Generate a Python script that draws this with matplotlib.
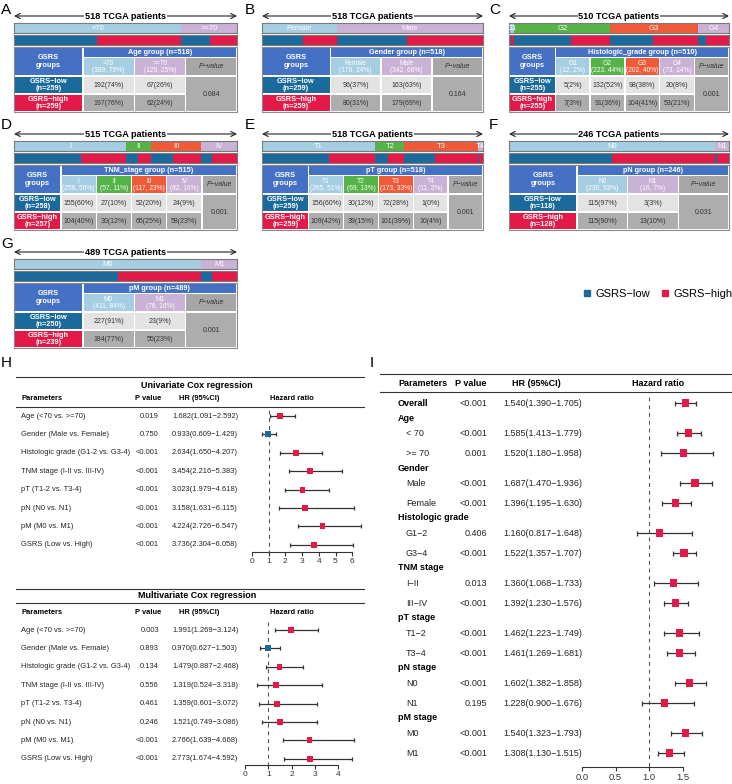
import numpy as np
import matplotlib
matplotlib.use('Agg')
import matplotlib.pyplot as plt
from matplotlib.patches import Rectangle
from matplotlib.lines import Line2D

plt.rcParams['font.family'] = ['Liberation Sans', 'DejaVu Sans']

W, H = 732, 784

LOW = '#1a6a9c'
HIGH = '#e31a47'
HEAD = '#4571c4'
LIGHT_GRAY = '#e3e3e3'
DARK_GRAY = '#adadad'
C_LB = '#a6cee3'
C_LILAC = '#cab2d6'
C_GREEN = '#55b347'
C_ORANGE = '#ef5a38'

# ---- composition tables A-G ----
age_cats = ['<70', '>=70']
age_low = [192, 67]
age_high = [197, 62]

gender_cats = ['Female', 'Male']
gender_low = [96, 163]
gender_high = [80, 179]

grade_cats = ['G1', 'G2', 'G3', 'G4']
grade_low = [5, 132, 98, 20]
grade_high = [7, 91, 104, 53]

tnm_cats = ['I', 'II', 'III', 'IV']
tnm_low = [155, 27, 52, 24]
tnm_high = [104, 30, 65, 58]

pt_cats = ['T1', 'T2', 'T3', 'T4']
pt_low = [156, 30, 72, 1]
pt_high = [109, 39, 101, 10]

pn_cats = ['N0', 'N1']
pn_low = [115, 3]
pn_high = [115, 13]

pm_cats = ['M0', 'M1']
pm_low = [227, 23]
pm_high = [184, 55]

panel_pvals = ['0.684', '0.164', '0.001', '0.001', '0.001', '0.031', '0.001']

# ---- Cox regression (H) ----
h_labels = ['Age (<70 vs. >=70)', 'Gender (Male vs. Female)',
            'Histologic grade (G1-2 vs. G3-4)', 'TNM stage (I-II vs. III-IV)',
            'pT (T1-2 vs. T3-4)', 'pN (N0 vs. N1)', 'pM (M0 vs. M1)',
            'GSRS (Low vs. High)']
uni_p = ['0.019', '0.750', '<0.001', '<0.001', '<0.001', '<0.001', '<0.001', '<0.001']
uni_hr = [1.682, 0.933, 2.634, 3.454, 3.023, 3.158, 4.224, 3.736]
uni_lo = [1.091, 0.609, 1.650, 2.216, 1.979, 1.631, 2.726, 2.304]
uni_hi = [2.592, 1.429, 4.207, 5.383, 4.618, 6.115, 6.547, 6.058]
multi_p = ['0.003', '0.893', '0.134', '0.556', '0.461', '0.246', '<0.001', '<0.001']
multi_hr = [1.991, 0.970, 1.479, 1.319, 1.359, 1.521, 2.766, 2.773]
multi_lo = [1.269, 0.627, 0.887, 0.524, 0.601, 0.749, 1.639, 1.674]
multi_hi = [3.124, 1.503, 2.468, 3.318, 3.072, 3.086, 4.668, 4.592]

# ---- subgroup forest (I) ----
i_groups = ['Overall', 'Age', 'Gender', 'Histologic grade', 'TNM stage',
            'pT stage', 'pN stage', 'pM stage']
i_items = [[], ['< 70', '>= 70'], ['Male', 'Female'], ['G1\u22122', 'G3\u22124'],
           ['I\u2212II', 'III\u2212IV'], ['T1\u22122', 'T3\u22124'], ['N0', 'N1'], ['M0', 'M1']]
i_p = ['<0.001', '<0.001', '0.001', '<0.001', '<0.001', '0.406', '<0.001', '0.013',
       '<0.001', '<0.001', '<0.001', '<0.001', '0.195', '<0.001', '<0.001']
i_hr = [1.540, 1.585, 1.520, 1.687, 1.396, 1.160, 1.522, 1.360, 1.392, 1.462, 1.461,
        1.602, 1.228, 1.540, 1.308]
i_lo = [1.390, 1.413, 1.180, 1.470, 1.195, 0.817, 1.357, 1.068, 1.230, 1.223, 1.269,
        1.382, 0.900, 1.323, 1.130]
i_hi = [1.705, 1.779, 1.958, 1.936, 1.630, 1.648, 1.707, 1.733, 1.576, 1.749, 1.681,
        1.858, 1.676, 1.793, 1.515]

fig = plt.figure(figsize=(W / 100, H / 100), dpi=100)
ov = fig.add_axes([0, 0, 1, 1])
ov.set_xlim(0, W)
ov.set_ylim(H, 0)
ov.axis('off')


def px_box(x0, y0, x1, y1):
    return [x0 / W, 1 - y1 / H, (x1 - x0) / W, (y1 - y0) / H]


def pct(v, n):
    return int(round(100 * v / n))


def strip(x0, x1, y0, y1, values, colors, labels=None):
    ax = fig.add_axes(px_box(x0, y0, x1, y1))
    left = np.concatenate([[0], np.cumsum(values)[:-1]])
    ax.barh(0, values, left=left, color=colors, height=1, edgecolor='none')
    ax.set_xlim(0, sum(values))
    ax.set_ylim(-0.5, 0.5)
    ax.set_xticks([])
    ax.set_yticks([])
    for s in ax.spines.values():
        s.set_color('#7a7a7a')
        s.set_linewidth(0.8)
    if labels:
        for l, v, lab in zip(left, values, labels):
            ax.text(l + v / 2, 0, lab, color='white', ha='center', va='center', fontsize=5.5)


def cell(x0, y0, x1, y1, fc, txt='', tc='white', **kw):
    ov.add_patch(Rectangle((x0, y0), x1 - x0, y1 - y0, facecolor=fc, edgecolor='none', zorder=2))
    if txt:
        ov.text((x0 + x1) / 2, (y0 + y1) / 2, txt, color=tc, ha='center', va='center',
                zorder=3, linespacing=1.1, **kw)


def panel(letter, lx, ly, x0, x1, ya, group, cats, low, high, pval, colors):
    low = np.array(low)
    high = np.array(high)
    tot = low + high
    n = tot.sum()
    n_low, n_high = low.sum(), high.sum()
    ov.text(lx, ly, letter, fontsize=11, ha='left', va='center')
    ov.annotate('', xy=(x0, ya), xytext=(x1, ya),
                arrowprops=dict(arrowstyle='<->', lw=0.8, color='#222',
                                shrinkA=0, shrinkB=0, mutation_scale=9))
    ov.text((x0 + x1) / 2, ya, f'{n} TCGA patients', ha='center', va='center',
            fontsize=6.6, fontweight='bold',
            bbox=dict(facecolor='white', edgecolor='none', pad=0.6))
    strip(x0, x1, ya + 7, ya + 17, tot, colors, cats)
    inter = np.ravel(np.column_stack([low, high]))
    strip(x0, x1, ya + 19, ya + 29, inter, [LOW, HIGH] * len(cats))

    t = ya + 31
    nc = len(cats)
    unit = (x1 - x0) / (1.34 + nc + 1)
    gw = 1.34 * unit
    g = 0.7
    xs = [x0 + gw + i * unit for i in range(nc + 2)]
    xs[-1] = x1
    ov.add_patch(Rectangle((x0, t), x1 - x0, 65, facecolor='white',
                           edgecolor='#8a8a8a', lw=0.8, zorder=1))
    cell(x0 + g, t + g, x0 + gw - g, t + 29 - g, HEAD, 'GSRS\ngroups',
         fontsize=5.3, fontweight='bold')
    cell(x0 + gw + g, t + g, x1 - g, t + 10.5 - g, HEAD, group,
         fontsize=5.2, fontweight='bold')
    for i, c in enumerate(cats):
        cell(xs[i] + g, t + 10.5 + g, xs[i + 1] - g, t + 29 - g, colors[i],
             f'{c}\n({tot[i]}, {pct(tot[i], n)}%)', fontsize=4.8)
        cell(xs[i] + g, t + 29 + g, xs[i + 1] - g, t + 47 - g, LIGHT_GRAY,
             f'{low[i]}({pct(low[i], n_low)}%)', tc='#333', fontsize=5)
        cell(xs[i] + g, t + 47 + g, xs[i + 1] - g, t + 65 - g, DARK_GRAY,
             f'{high[i]}({pct(high[i], n_high)}%)', tc='#333', fontsize=5)
    cell(xs[nc] + g, t + 10.5 + g, x1 - g, t + 29 - g, '#a6a6a6', 'P\u2212value',
         tc='#333', fontsize=5, fontstyle='italic')
    cell(x0 + g, t + 29 + g, x0 + gw - g, t + 47 - g, LOW, f'GSRS\u2212low\n(n={n_low})',
         fontsize=5.3, fontweight='bold')
    cell(x0 + g, t + 47 + g, x0 + gw - g, t + 65 - g, HIGH, f'GSRS\u2212high\n(n={n_high})',
         fontsize=5.3, fontweight='bold')
    cell(xs[nc] + g, t + 29 + g, x1 - g, t + 65 - g, DARK_GRAY, pval, tc='#333', fontsize=5)


c2 = [C_LB, C_LILAC]
c4 = [C_LB, C_GREEN, C_ORANGE, C_LILAC]
panel('A', 1, 10, 14, 237, 16, 'Age group (n=518)', age_cats, age_low, age_high, panel_pvals[0], c2)
panel('B', 245, 10, 262, 483, 16, 'Gender group (n=518)', gender_cats, gender_low, gender_high, panel_pvals[1], c2)
panel('C', 489, 10, 509, 729, 16, 'Histologic_grade group (n=510)', grade_cats, grade_low, grade_high, panel_pvals[2], c4)
panel('D', 1, 125, 14, 237, 134, 'TNM_stage group (n=515)', tnm_cats, tnm_low, tnm_high, panel_pvals[3], c4)
panel('E', 245, 125, 262, 483, 134, 'pT group (n=518)', pt_cats, pt_low, pt_high, panel_pvals[4], c4)
panel('F', 489, 125, 509, 729, 134, 'pN group (n=246)', pn_cats, pn_low, pn_high, panel_pvals[5], c2)
panel('G', 1, 244, 14, 237, 252, 'pM group (n=489)', pm_cats, pm_low, pm_high, panel_pvals[6], c2)

fig.legend(handles=[Line2D([], [], marker='s', ls='', color=LOW, ms=4, label='GSRS\u2212low'),
                    Line2D([], [], marker='s', ls='', color=HIGH, ms=4, label='GSRS\u2212high')],
           loc='center', bbox_to_anchor=(658 / W, 1 - 294 / H), ncol=2, frameon=False,
           fontsize=8, handlelength=0.6, handletextpad=0.5, columnspacing=1.0)


def forest(box, xmax, bound, ticks, ticklabels, ys, hr, lo, hi, ms, cap, fs, dash_from):
    x0, y0, x1, y1 = box
    ax = fig.add_axes(px_box(x0, y0, x1, y1))
    ax.set_facecolor('none')
    ax.set_xlim(0, xmax)
    ax.set_ylim(y1, y0)
    hr, lo, hi = np.array(hr), np.array(lo), np.array(hi)
    ax.plot([1, 1], [dash_from, y1], ls=(0, (3.5, 3.5)), color='#555', lw=0.8)
    ax.errorbar(hr, ys, xerr=[hr - lo, hi - hr], fmt='none', ecolor='#333',
                elinewidth=0.9, capsize=cap, capthick=0.9)
    cols = [LOW if v < 1 else HIGH for v in hr]
    ax.scatter(hr, ys, marker='s', s=ms, c=cols, zorder=3, linewidths=0)
    for s in ['left', 'top', 'right']:
        ax.spines[s].set_visible(False)
    ax.spines['bottom'].set_bounds(bound[0], bound[1])
    ax.spines['bottom'].set_color('#333')
    ax.spines['bottom'].set_linewidth(0.8)
    ax.set_yticks([])
    ax.set_xticks(ticks)
    ax.set_xticklabels(ticklabels, fontsize=fs)
    ax.tick_params(axis='x', length=3, width=0.8, pad=1.5, colors='#333')
    return ax


# ---- H ----
ov.text(1, 363, 'H', fontsize=11, ha='left', va='center')


def cox_table(title, line_top, title_y, line2, head_y, row0, p, hr, lo, hi, box, xmax, bound, ticks):
    ov.plot([16, 364], [line_top, line_top], color='#333', lw=0.8)
    ov.plot([16, 364], [line2, line2], color='#333', lw=0.8)
    ov.text(197, title_y, title, ha='center', va='center', fontsize=6.5, fontweight='bold')
    hk = dict(va='center', fontsize=5.4, fontweight='bold')
    ov.text(21, head_y, 'Parameters', ha='left', **hk)
    ov.text(148, head_y, 'P value', ha='center', **hk)
    ov.text(199, head_y, 'HR (95%CI)', ha='center', **hk)
    ov.text(292, head_y, 'Hazard ratio', ha='center', **hk)
    ys = [row0 + 18.4 * i for i in range(len(hr))]
    for y, lab, pv, h, l, u in zip(ys, h_labels, p, hr, lo, hi):
        ov.text(21, y, lab, ha='left', va='center', fontsize=5.4, color='#222')
        ov.text(159, y, pv, ha='right', va='center', fontsize=5.4, color='#222')
        ov.text(172, y, f'{h:.3f}({l:.3f}\u2212{u:.3f})', ha='left', va='center',
                fontsize=5.4, color='#222')
    forest(box, xmax, bound, ticks, [str(t) for t in ticks], ys, hr, lo, hi,
           18, 1.5, 6, box[1] + 4)


cox_table('Univariate Cox regression', 377, 385, 407, 398, 416, uni_p, uni_hr, uni_lo, uni_hi,
          (252, 406, 362, 552), 110 / 16.7, (0, 6), [0, 1, 2, 3, 4, 5, 6])
cox_table('Multivariate Cox regression', 589, 596, 603, 612, 630, multi_p, multi_hr, multi_lo,
          multi_hi, (245, 618, 362, 765), 117 / 23.3, (0, 4), [0, 1, 2, 3, 4])

# ---- I ----
ov.text(370, 363, 'I', fontsize=11, ha='left', va='center')
ov.plot([380, 731], [374, 374], color='#333', lw=0.8)
ov.plot([380, 731], [392, 392], color='#333', lw=0.8)
hk = dict(va='center', fontsize=6.5, fontweight='bold')
ov.text(398, 383, 'Parameters', ha='left', **hk)
ov.text(471, 383, 'P value', ha='center', **hk)
ov.text(536, 383, 'HR (95%CI)', ha='center', **hk)
ov.text(658, 383, 'Hazard ratio', ha='center', **hk)

ys = []
y = 403
for grp, items in zip(i_groups, i_items):
    ov.text(398, y, grp, ha='left', va='center', fontsize=6.5, fontweight='bold')
    if not items:
        ys.append(y)
        y += 15
        continue
    y += 15
    for k, it in enumerate(items):
        ov.text(406, y, it, ha='left', va='center', fontsize=6.5, color='#222')
        ys.append(y)
        y += 20 if k == 0 else 15

for yy, pv, h, l, u in zip(ys, i_p, i_hr, i_lo, i_hi):
    ov.text(487, yy, pv, ha='right', va='center', fontsize=6.5, color='#222')
    ov.text(503, yy, f'{h:.3f}({l:.3f}\u2212{u:.3f})', ha='left', va='center',
            fontsize=6.5, color='#222')

forest((582, 394, 730, 767), 148 / 67, (0, 1.5), [0, 0.5, 1.0, 1.5],
       ['0.0', '0.5', '1.0', '1.5'], ys, i_hr, i_lo, i_hi, 26, 1.8, 6.8, 397)

fig.savefig('out.png', dpi=100)
